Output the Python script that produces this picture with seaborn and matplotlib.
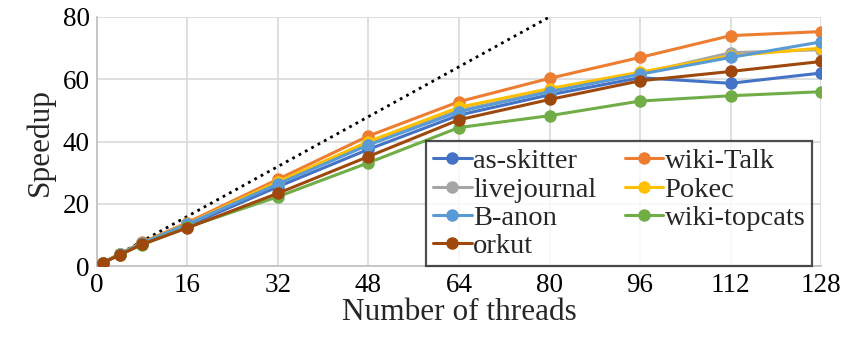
import matplotlib
matplotlib.use("Agg")
import matplotlib.pyplot as plt
import seaborn as sns
import pandas as pd
from matplotlib.lines import Line2D

threads = [1, 4, 8, 16, 32, 48, 64, 80, 96, 112, 128]
as_skitter   = [1, 3.8, 7.2, 13.0, 25.5, 37.5, 48.5, 55.0, 60.5, 58.7, 62.0]
wiki_talk    = [1, 3.9, 7.6, 14.0, 27.9, 41.8, 52.8, 60.3, 67.0, 74.0, 75.3]
livejournal  = [1, 3.9, 7.4, 13.5, 26.8, 39.5, 50.0, 56.2, 61.8, 68.5, 69.5]
pokec        = [1, 3.9, 7.5, 13.6, 27.1, 40.0, 51.0, 57.0, 62.3, 67.5, 70.0]
b_anon       = [1, 3.9, 7.4, 13.5, 26.4, 38.9, 49.6, 56.0, 61.6, 67.0, 72.0]
wiki_topcats = [1, 3.7, 6.9, 12.5, 22.3, 33.2, 44.5, 48.3, 53.0, 54.7, 56.0]
orkut        = [1, 3.6, 7.0, 12.3, 23.4, 35.2, 47.0, 53.5, 59.5, 62.5, 65.7]

names = ["as-skitter", "wiki-Talk", "livejournal", "Pokec", "B-anon", "wiki-topcats", "orkut"]
series = [as_skitter, wiki_talk, livejournal, pokec, b_anon, wiki_topcats, orkut]
colors = ["#4472C4", "#ED7D31", "#A5A5A5", "#FFC000", "#5B9BD5", "#70AD47", "#9E480E"]

ideal_x = [1, 80]
ideal_y = [1, 80]

rows = []
for n, s in zip(names, series):
    for t, v in zip(threads, s):
        rows.append({"threads": t, "speedup": v, "graph": n})
df = pd.DataFrame(rows)

sns.set_style("white")
plt.rcParams['font.family'] = ['Liberation Serif', 'DejaVu Serif']

fig = plt.figure(figsize=(8.5, 3.53), dpi=100)
ax = fig.add_axes([0.114, 0.246, 0.852, 0.706])

ax.plot(ideal_x, ideal_y, linestyle=(0, (1, 1.6)), color="black", linewidth=2.0, zorder=1)

sns.lineplot(data=df, x="threads", y="speedup", hue="graph", hue_order=names,
             palette=colors, marker="o", markersize=9, markeredgewidth=0,
             linewidth=2.2, ax=ax, legend=False, zorder=3)

ax.set_xlim(0, 128)
ax.set_ylim(0, 80)
ax.set_xticks([0, 16, 32, 48, 64, 80, 96, 112, 128])
ax.set_yticks([0, 20, 40, 60, 80])
ax.grid(True, color="#D9D9D9", linewidth=1.2)
ax.set_axisbelow(True)
for sp in ["top", "right"]:
    ax.spines[sp].set_visible(False)
for sp in ["left", "bottom"]:
    ax.spines[sp].set_color("#BFBFBF")
    ax.spines[sp].set_linewidth(1.2)
ax.tick_params(axis="both", labelsize=19.5, length=0, pad=5, colors="black")
ax.set_xlabel("Number of threads", fontsize=22.5, labelpad=0)
ax.set_ylabel("Speedup", fontsize=22.5, labelpad=6)

order = ["as-skitter", "livejournal", "B-anon", "orkut", "wiki-Talk", "Pokec", "wiki-topcats"]
handles = [Line2D([0], [0], color=colors[names.index(n)], marker="o", markersize=9,
                  markeredgewidth=0, linewidth=2.2) for n in order]
leg = ax.legend(handles, order, ncol=2, loc="lower right", bbox_to_anchor=(0.988, 0.0),
                prop={"family": "Liberation Serif", "size": 20.5}, frameon=True,
                fancybox=False, borderaxespad=0,
                handlelength=1.35, handletextpad=0.05, columnspacing=1.0,
                labelspacing=0.08, borderpad=0.25)
leg.get_frame().set_edgecolor("#222222")
leg.get_frame().set_linewidth(1.6)
leg.set_zorder(5)

fig.savefig("out.png", dpi=100)
